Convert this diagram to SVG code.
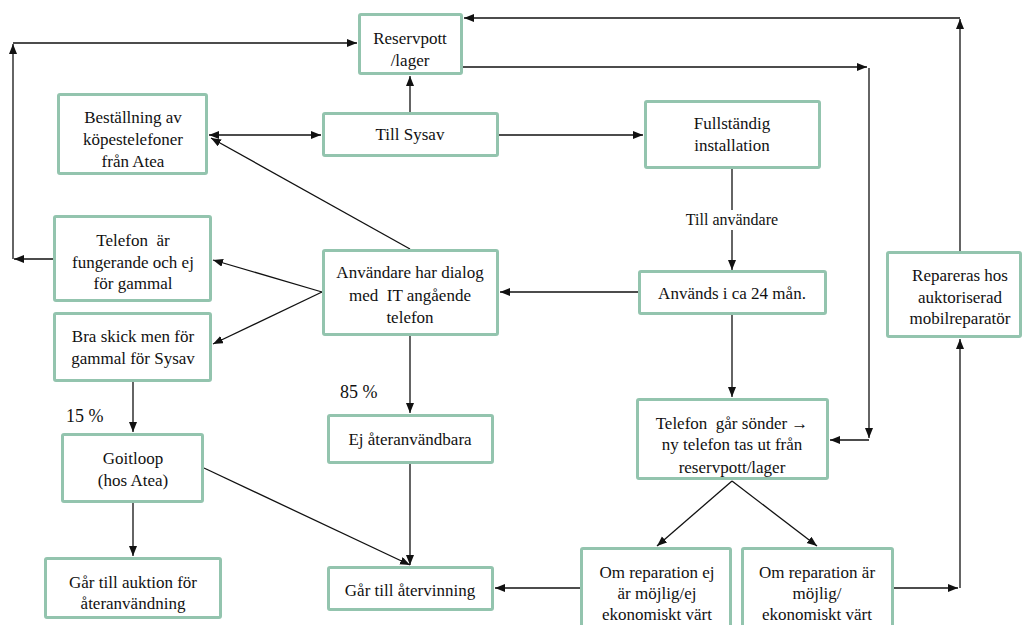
<svg xmlns="http://www.w3.org/2000/svg" width="1022" height="625" viewBox="0 0 1022 625" font-family="Liberation Serif, Times New Roman, serif">
<style>
.box{fill:#ffffff;stroke:#93c4ae;stroke-width:3}
.t{font-size:17px;fill:#111;text-anchor:middle}
.lbl{font-size:18px;fill:#111}
.c{fill:none;stroke:#111;stroke-width:1.3}
.a{marker-end:url(#ah)}
</style>
<defs>
<marker id="ah" markerUnits="userSpaceOnUse" markerWidth="11" markerHeight="9" refX="10" refY="4" orient="auto-start-reverse">
<path d="M0,0 L10,4 L0,8 z" fill="#111"/>
</marker>
</defs>
<rect width="1022" height="625" fill="#ffffff"/>
<g id="connectors">
<path class="c a" d="M960,251 V19"/>
<path class="c a" d="M960,18 H464"/>
<path class="c a" d="M53,259 H14"/>
<path class="c a" d="M13,259 V44"/>
<path class="c a" d="M13,43 H357"/>
<path class="c a" d="M410,112 V76"/>
<path class="c a" d="M209,135 H321" marker-start="url(#ah)"/>
<path class="c a" d="M499,135 H643"/>
<path class="c a" d="M410,249 L211,138"/>
<path class="c a" d="M463,67 H867"/>
<path class="c a" d="M869,68 V438"/>
<path class="c a" d="M869,440 H830"/>
<path class="c a" d="M732,169 V270"/>
<path class="c a" d="M638,292 H500"/>
<path class="c a" d="M732,315 V397"/>
<path class="c a" d="M322,292 L213,260"/>
<path class="c a" d="M322,292 L213,344"/>
<path class="c a" d="M410,336 V413"/>
<path class="c a" d="M133,382 V432"/>
<path class="c a" d="M133,503 V556"/>
<path class="c a" d="M204,468 L410,565"/>
<path class="c a" d="M410,464 V565"/>
<path class="c a" d="M580,588 H495"/>
<path class="c a" d="M732,481 L657,546"/>
<path class="c a" d="M732,481 L817,546"/>
<path class="c a" d="M894,588 H958"/>
<path class="c a" d="M960,588 V339"/>
<rect x="680" y="210" width="104" height="20" fill="#ffffff"/>
<text class="t" x="732" y="225" style="font-size:16px">Till användare</text>
<text class="lbl" x="340" y="398">85 %</text>
<text class="lbl" x="66" y="422">15 %</text>
</g>
<g id="n-reservpott">
<rect class="box" x="359.5" y="14.5" width="102" height="59" rx="1.5"/>
<text class="t" x="410" y="44">Reservpott</text>
<text class="t" x="410" y="66">/lager</text>
</g>
<g id="n-bestallning">
<rect class="box" x="58.5" y="94.5" width="148" height="79" rx="1.5"/>
<text class="t" x="133" y="123">Beställning av</text>
<text class="t" x="133" y="145">köpestelefoner</text>
<text class="t" x="133" y="167">från Atea</text>
</g>
<g id="n-tillsysav">
<rect class="box" x="323.5" y="113.5" width="174" height="42" rx="1.5"/>
<text class="t" x="410" y="140">Till Sysav</text>
</g>
<g id="n-fullstandig">
<rect class="box" x="645.5" y="101.5" width="174" height="66" rx="1.5"/>
<text class="t" x="732" y="129">Fullständig</text>
<text class="t" x="732" y="151">installation</text>
</g>
<g id="n-fungerande">
<rect class="box" x="54.5" y="216.5" width="156" height="84" rx="1.5"/>
<text class="t" x="133" y="246" xml:space="preserve">Telefon  är</text>
<text class="t" x="133" y="268">fungerande och ej</text>
<text class="t" x="133" y="289">för gammal</text>
</g>
<g id="n-braskick">
<rect class="box" x="54.5" y="313.5" width="156" height="67" rx="1.5"/>
<text class="t" x="133" y="342">Bra skick men för</text>
<text class="t" x="133" y="364">gammal för Sysav</text>
</g>
<g id="n-dialog">
<rect class="box" x="323.5" y="250.5" width="174" height="84" rx="1.5"/>
<text class="t" x="410" y="278">Användare har dialog</text>
<text class="t" x="410" y="301" xml:space="preserve">med  IT angående</text>
<text class="t" x="410" y="323">telefon</text>
</g>
<g id="n-anvands">
<rect class="box" x="639.5" y="271.5" width="186" height="42" rx="1.5"/>
<text class="t" x="732" y="299">Används i ca 24 mån.</text>
</g>
<g id="n-repareras">
<rect class="box" x="887.5" y="252.5" width="133" height="84" rx="1.5"/>
<text class="t" x="960" y="281">Repareras hos</text>
<text class="t" x="960" y="303">auktoriserad</text>
<text class="t" x="960" y="324">mobilreparatör</text>
</g>
<g id="n-sonder">
<rect class="box" x="637.5" y="399.5" width="190" height="79" rx="1.5"/>
<text class="t" x="732" y="429" xml:space="preserve">Telefon  går sönder →</text>
<text class="t" x="732" y="450">ny telefon tas ut från</text>
<text class="t" x="732" y="473">reservpott/lager</text>
</g>
<g id="n-ejateranvandbara">
<rect class="box" x="328.5" y="415.5" width="164" height="47" rx="1.5"/>
<text class="t" x="410" y="445">Ej återanvändbara</text>
</g>
<g id="n-goitloop">
<rect class="box" x="62.5" y="434.5" width="140" height="67" rx="1.5"/>
<text class="t" x="133" y="464">Goitloop</text>
<text class="t" x="133" y="486">(hos Atea)</text>
</g>
<g id="n-auktion">
<rect class="box" x="45.5" y="558.5" width="175" height="59" rx="1.5"/>
<text class="t" x="133" y="588">Går till auktion för</text>
<text class="t" x="133" y="609">återanvändning</text>
</g>
<g id="n-atervinning">
<rect class="box" x="328.5" y="567.5" width="164" height="42" rx="1.5"/>
<text class="t" x="410" y="596">Går till återvinning</text>
</g>
<g id="n-ejmojlig">
<rect class="box" x="581.5" y="548.5" width="149" height="90" rx="1.5"/>
<text class="t" x="657" y="578">Om reparation ej</text>
<text class="t" x="657" y="599">är möjlig/ej</text>
<text class="t" x="657" y="620">ekonomiskt värt</text>
</g>
<g id="n-mojlig">
<rect class="box" x="742.5" y="548.5" width="150" height="90" rx="1.5"/>
<text class="t" x="817" y="578">Om reparation är</text>
<text class="t" x="817" y="599">möjlig/</text>
<text class="t" x="817" y="620">ekonomiskt värt</text>
</g>
</svg>
